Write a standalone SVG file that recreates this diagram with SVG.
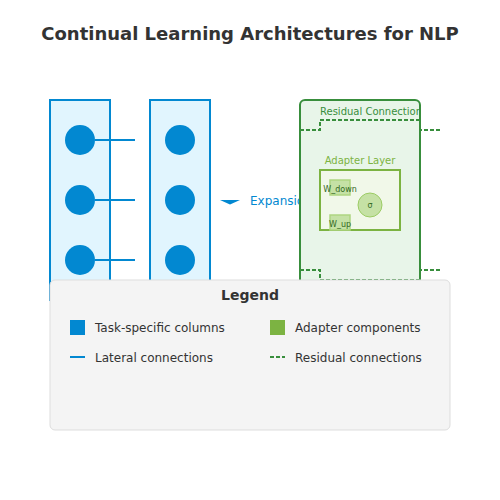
<svg xmlns="http://www.w3.org/2000/svg" width="500" height="500" viewBox="0 0 500 500">
  <defs>
    <style>
      text { font-family: "DejaVu Sans", "Liberation Sans", sans-serif; }
      .title { font-size: 18px; font-weight: bold; fill: #333; }
      .col { fill: #e1f5fe; stroke: #0288d1; stroke-width: 2; }
      .unit { fill: #0288d1; }
      .lateral { stroke: #0288d1; stroke-width: 2; fill: none; }
      .residual { stroke: #388e3c; stroke-width: 2; stroke-dasharray: 4,2; fill: none; }
      .lbl { font-size: 12px; fill: #333; }
      .small { font-size: 8px; fill: #33691e; }
    </style>
    <clipPath id="boxclip">
      <rect x="300" y="100" width="120" height="200"/>
    </clipPath>
  </defs>
  <rect width="500" height="500" fill="#ffffff"/>
  <text class="title" x="250" y="40" text-anchor="middle">Continual Learning Architectures for NLP</text>

  <g id="column1">
    <rect class="col" x="50" y="100" width="60" height="200"/>
    <circle class="unit" cx="80" cy="140" r="15"/>
    <circle class="unit" cx="80" cy="200" r="15"/>
    <circle class="unit" cx="80" cy="260" r="15"/>
  </g>
  <g id="column2">
    <rect class="col" x="150" y="100" width="60" height="200"/>
    <circle class="unit" cx="180" cy="140" r="15"/>
    <circle class="unit" cx="180" cy="200" r="15"/>
    <circle class="unit" cx="180" cy="260" r="15"/>
  </g>

  <g id="connectors">
    <line class="lateral" x1="95" y1="140" x2="135" y2="140"/>
    <line class="lateral" x1="95" y1="200" x2="135" y2="200"/>
    <line class="lateral" x1="95" y1="260" x2="135" y2="260"/>
  </g>

  <g id="expansion">
    <polygon points="220,200 240,200 230,204.5" fill="#0288d1"/>
    <text x="250" y="205" font-size="12" fill="#0288d1">Expansion</text>
  </g>

  <g id="adapter-block">
    <rect x="300" y="100" width="120" height="200" rx="5" fill="#e8f5e9" stroke="#388e3c" stroke-width="2"/>
    <text x="320" y="115" font-size="10" fill="#388e3c" clip-path="url(#boxclip)">Residual Connection</text>
    <path class="residual" d="M300,130 L320,130 L320,120 L420,120 L420,130 L440,130"/>
    <path class="residual" d="M300,270 L320,270 L320,280 L420,280 L420,270 L440,270"/>
    <g id="adapter-layer">
      <text x="360" y="164" font-size="10" fill="#7cb342" text-anchor="middle">Adapter Layer</text>
      <rect x="320" y="170" width="80" height="60" fill="#f1f8e9" stroke="#7cb342" stroke-width="2"/>
      <rect x="330" y="180" width="20" height="15" fill="#c5e1a5" stroke="#aed581" stroke-width="1.5"/>
      <text class="small" x="340" y="192" text-anchor="middle">W_down</text>
      <rect x="330" y="215" width="20" height="15" fill="#c5e1a5" stroke="#aed581" stroke-width="1.5"/>
      <text class="small" x="340" y="227" text-anchor="middle">W_up</text>
      <circle cx="370" cy="205" r="12" fill="#c5e1a5" stroke="#9ccc65" stroke-width="1"/>
      <text class="small" x="370" y="208" text-anchor="middle">σ</text>
    </g>
  </g>

  <g id="legend">
    <rect x="50" y="280" width="400" height="150" rx="5" fill="#f4f4f4" stroke="#dddddd" stroke-width="1"/>
    <text x="250" y="300" font-size="14" font-weight="bold" fill="#333" text-anchor="middle">Legend</text>
    <rect x="70" y="320" width="15" height="15" fill="#0288d1"/>
    <text class="lbl" x="95" y="332">Task-specific columns</text>
    <line x1="70" y1="357" x2="85" y2="357" stroke="#0288d1" stroke-width="2"/>
    <text class="lbl" x="95" y="362">Lateral connections</text>
    <rect x="270" y="320" width="15" height="15" fill="#7cb342"/>
    <text class="lbl" x="295" y="332">Adapter components</text>
    <line class="residual" x1="270" y1="357" x2="285" y2="357"/>
    <text class="lbl" x="295" y="362">Residual connections</text>
  </g>
</svg>
